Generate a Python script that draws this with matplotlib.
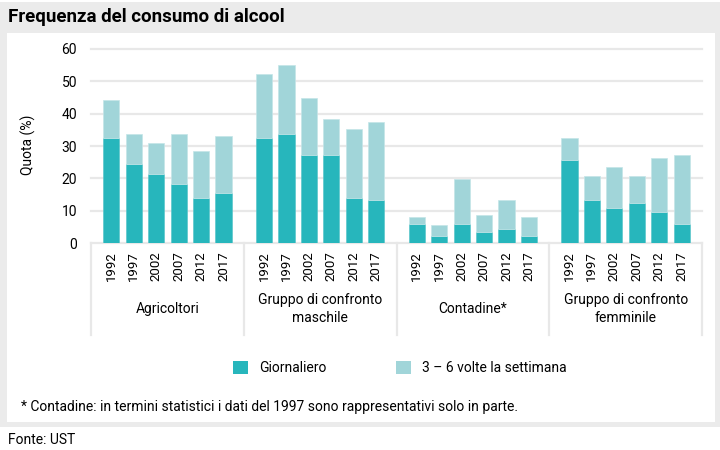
import matplotlib
matplotlib.use("Agg")
import matplotlib.pyplot as plt
from matplotlib.patches import Rectangle, Patch

plt.rcParams['font.family'] = ['Liberation Sans Narrow', 'Roboto', 'DejaVu Sans']

# data (%)
groups = ["Agricoltori", "Gruppo di confronto\nmaschile", "Contadine*", "Gruppo di confronto\nfemminile"]
years = ["1992", "1997", "2002", "2007", "2012", "2017"]
daily = [
    [32.4, 24.4, 21.3, 18.3, 13.8, 15.4],
    [32.4, 33.8, 27.2, 27.2, 13.8, 13.2],
    [5.8, 2.1, 5.8, 3.5, 4.4, 2.1],
    [25.7, 13.2, 10.8, 12.4, 9.5, 5.8],
]
total = [
    [44.2, 33.8, 30.8, 33.8, 28.6, 33.1],
    [52.3, 55.2, 44.9, 38.3, 35.3, 37.5],
    [7.9, 5.7, 19.7, 8.7, 13.2, 7.9],
    [32.4, 20.6, 23.5, 20.6, 26.4, 27.2],
]
series_names = ["Giornaliero", "3 – 6 volte la settimana"]

DARK = '#27b6bc'
LIGHT = '#a1d5d9'
GRID = '#e8e8e8'
BG = '#ebebeb'

W, H = 720, 450
fig = plt.figure(figsize=(7.2, 4.5), dpi=100, facecolor='white')

def fx(px):
    return px / W

def fy(py):
    return 1 - py / H

# gray frame and white panel
fig.add_artist(Rectangle((0, fy(427)), 1, fy(2) - fy(427), transform=fig.transFigure,
                         facecolor=BG, edgecolor='none', zorder=-10))
fig.add_artist(Rectangle((fx(7), fy(422)), fx(715) - fx(7), fy(33) - fy(422),
                         transform=fig.transFigure, facecolor='white', edgecolor='none', zorder=-9))

# axes: 0 at y=243px, 60 at y=49px
ymax = 61
ax_h = (243 - 49) * ymax / 60
ax = fig.add_axes([fx(91), fy(243), fx(702) - fx(91), ax_h / H])
ax.patch.set_alpha(0)

group_w = 6.8
pad = 0.9
xs, labels = [], []
for g in range(len(groups)):
    pos = [g * group_w + pad + i for i in range(len(years))]
    light = [t - d for t, d in zip(total[g], daily[g])]
    ax.bar(pos, daily[g], width=0.72, color=DARK, edgecolor='#5cc6cb', linewidth=0.5, zorder=3)
    ax.bar(pos, light, bottom=daily[g], width=0.72, color=LIGHT, edgecolor='#c4e5e8',
           linewidth=0.5, zorder=3)
    xs += pos
    labels += years
    ax.text(g * group_w + group_w / 2, -(309 - 243) / ax_h, groups[g],
            transform=ax.get_xaxis_transform(), ha='center', va='center',
            fontsize=10, linespacing=1.35)

ax.set_xlim(0, group_w * len(groups))
ax.set_ylim(0, ymax)
ax.set_yticks(range(0, 61, 10))
ax.set_xticks(xs)
ax.set_xticklabels(labels, rotation=90, fontsize=9.5)
ax.tick_params(axis='x', length=0, pad=6)
ax.tick_params(axis='y', length=0, pad=10, labelsize=10)
for y in range(0, 61, 10):
    ax.axhline(y, color=GRID, linewidth=1.6, zorder=1, clip_on=False)
for s in ax.spines.values():
    s.set_visible(False)

# group separators
for g in range(len(groups) + 1):
    ax.plot([g * group_w] * 2, [0, -(335 - 243) / ax_h], color=GRID, linewidth=1.6,
            transform=ax.get_xaxis_transform(), clip_on=False, zorder=1)

fig.text(fx(28), fy(145), "Quota (%)", rotation=90, ha='center', va='center', fontsize=10)

handles = [Patch(facecolor=DARK), Patch(facecolor=LIGHT)]
fig.legend(handles, series_names, loc='center', bbox_to_anchor=(fx(400), fy(368)), ncol=2,
           frameon=False, fontsize=10, handlelength=1.1, handleheight=1.1,
           columnspacing=5.0, handletextpad=0.8)

fig.text(fx(8), fy(17), "Frequenza del consumo di alcool", fontsize=13.5, fontweight='bold',
         ha='left', va='center')
fig.text(fx(21), fy(407), "* Contadine: in termini statistici i dati del 1997 sono rappresentativi solo in parte.",
         fontsize=10, ha='left', va='center')
fig.text(fx(8), fy(440), "Fonte: UST", fontsize=10, ha='left', va='center')

fig.savefig("out.png", dpi=100, facecolor='white')
